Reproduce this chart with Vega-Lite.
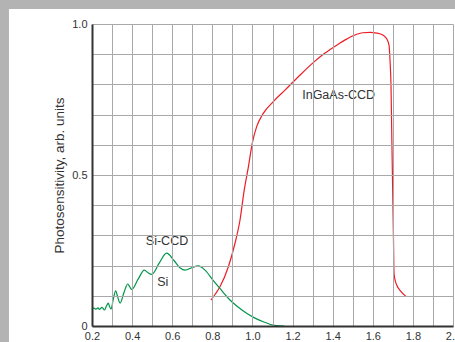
{
  "$schema": "https://vega.github.io/schema/vega-lite/v6.json",
  "width": 361,
  "height": 302,
  "autosize": {"type": "none"},
  "padding": {"left": 92, "top": 24, "right": 2, "bottom": 16},
  "background": "#b3b3b3",
  "config": {
    "view": {"stroke": "#444444", "strokeWidth": 2},
    "font": "Liberation Sans"
  },
  "datasets": {
    "curves": [
      {"series": "InGaAs-CCD", "wl": 0.793, "s": 0.086},
      {"series": "InGaAs-CCD", "wl": 0.815, "s": 0.106},
      {"series": "InGaAs-CCD", "wl": 0.838, "s": 0.130},
      {"series": "InGaAs-CCD", "wl": 0.880, "s": 0.196},
      {"series": "InGaAs-CCD", "wl": 0.913, "s": 0.274},
      {"series": "InGaAs-CCD", "wl": 0.938, "s": 0.351},
      {"series": "InGaAs-CCD", "wl": 0.959, "s": 0.450},
      {"series": "InGaAs-CCD", "wl": 0.980, "s": 0.528},
      {"series": "InGaAs-CCD", "wl": 0.999, "s": 0.605},
      {"series": "InGaAs-CCD", "wl": 1.021, "s": 0.660},
      {"series": "InGaAs-CCD", "wl": 1.054, "s": 0.704},
      {"series": "InGaAs-CCD", "wl": 1.104, "s": 0.743},
      {"series": "InGaAs-CCD", "wl": 1.162, "s": 0.781},
      {"series": "InGaAs-CCD", "wl": 1.230, "s": 0.826},
      {"series": "InGaAs-CCD", "wl": 1.303, "s": 0.872},
      {"series": "InGaAs-CCD", "wl": 1.360, "s": 0.903},
      {"series": "InGaAs-CCD", "wl": 1.420, "s": 0.930},
      {"series": "InGaAs-CCD", "wl": 1.470, "s": 0.950},
      {"series": "InGaAs-CCD", "wl": 1.520, "s": 0.966},
      {"series": "InGaAs-CCD", "wl": 1.550, "s": 0.971},
      {"series": "InGaAs-CCD", "wl": 1.586, "s": 0.972},
      {"series": "InGaAs-CCD", "wl": 1.620, "s": 0.970},
      {"series": "InGaAs-CCD", "wl": 1.652, "s": 0.963},
      {"series": "InGaAs-CCD", "wl": 1.670, "s": 0.950},
      {"series": "InGaAs-CCD", "wl": 1.681, "s": 0.930},
      {"series": "InGaAs-CCD", "wl": 1.686, "s": 0.880},
      {"series": "InGaAs-CCD", "wl": 1.691, "s": 0.793},
      {"series": "InGaAs-CCD", "wl": 1.695, "s": 0.620},
      {"series": "InGaAs-CCD", "wl": 1.699, "s": 0.461},
      {"series": "InGaAs-CCD", "wl": 1.703, "s": 0.300},
      {"series": "InGaAs-CCD", "wl": 1.706, "s": 0.174},
      {"series": "InGaAs-CCD", "wl": 1.712, "s": 0.150},
      {"series": "InGaAs-CCD", "wl": 1.719, "s": 0.136},
      {"series": "InGaAs-CCD", "wl": 1.740, "s": 0.115},
      {"series": "InGaAs-CCD", "wl": 1.764, "s": 0.099},
      {"series": "Si", "wl": 0.199, "s": 0.055},
      {"series": "Si", "wl": 0.210, "s": 0.059},
      {"series": "Si", "wl": 0.220, "s": 0.056},
      {"series": "Si", "wl": 0.230, "s": 0.060},
      {"series": "Si", "wl": 0.237, "s": 0.055},
      {"series": "Si", "wl": 0.250, "s": 0.062},
      {"series": "Si", "wl": 0.262, "s": 0.053},
      {"series": "Si", "wl": 0.272, "s": 0.066},
      {"series": "Si", "wl": 0.281, "s": 0.076},
      {"series": "Si", "wl": 0.288, "s": 0.064},
      {"series": "Si", "wl": 0.295, "s": 0.056},
      {"series": "Si", "wl": 0.306, "s": 0.088},
      {"series": "Si", "wl": 0.318, "s": 0.116},
      {"series": "Si", "wl": 0.329, "s": 0.094},
      {"series": "Si", "wl": 0.340, "s": 0.076},
      {"series": "Si", "wl": 0.360, "s": 0.112},
      {"series": "Si", "wl": 0.378, "s": 0.139},
      {"series": "Si", "wl": 0.388, "s": 0.130},
      {"series": "Si", "wl": 0.398, "s": 0.121},
      {"series": "Si", "wl": 0.430, "s": 0.155},
      {"series": "Si", "wl": 0.461, "s": 0.185},
      {"series": "Si", "wl": 0.480, "s": 0.176},
      {"series": "Si", "wl": 0.498, "s": 0.171},
      {"series": "Si", "wl": 0.535, "s": 0.208},
      {"series": "Si", "wl": 0.572, "s": 0.241},
      {"series": "Si", "wl": 0.610, "s": 0.216},
      {"series": "Si", "wl": 0.640, "s": 0.192},
      {"series": "Si", "wl": 0.664, "s": 0.185},
      {"series": "Si", "wl": 0.697, "s": 0.193},
      {"series": "Si", "wl": 0.730, "s": 0.199},
      {"series": "Si", "wl": 0.765, "s": 0.184},
      {"series": "Si", "wl": 0.805, "s": 0.150},
      {"series": "Si", "wl": 0.850, "s": 0.115},
      {"series": "Si", "wl": 0.888, "s": 0.086},
      {"series": "Si", "wl": 0.930, "s": 0.062},
      {"series": "Si", "wl": 0.971, "s": 0.042},
      {"series": "Si", "wl": 1.010, "s": 0.027},
      {"series": "Si", "wl": 1.054, "s": 0.014},
      {"series": "Si", "wl": 1.090, "s": 0.005},
      {"series": "Si", "wl": 1.121, "s": 0.001},
      {"series": "Si", "wl": 1.160, "s": 0.0}
    ],
    "labels": [
      {"label": "InGaAs-CCD", "wl": 1.43, "s": 0.765},
      {"label": "Si-CCD", "wl": 0.574, "s": 0.282},
      {"label": "Si", "wl": 0.553, "s": 0.146}
    ]
  },
  "encoding": {
    "x": {
      "type": "quantitative",
      "scale": {"domain": [0.2, 2.0], "nice": false, "zero": false},
      "axis": {
        "title": null,
        "zindex": 1,
        "values": [0.2, 0.3, 0.4, 0.5, 0.6, 0.7, 0.8, 0.9, 1.0, 1.1, 1.2, 1.3, 1.4, 1.5, 1.6, 1.7, 1.8, 1.9, 2.0],
        "labelExpr": "round(datum.value*10) % 2 == 0 ? format(datum.value, '.1f') : ''",
        "labelOverlap": false,
        "labelFlush": false,
        "ticks": false,
        "grid": true,
        "gridColor": "#a8a8a8",
        "gridWidth": 1,
        "domainColor": "#333333",
        "domainWidth": 2,
        "labelFont": "Liberation Sans",
        "labelFontSize": 11,
        "labelColor": "#333333",
        "labelPadding": 4
      }
    },
    "y": {
      "type": "quantitative",
      "scale": {"domain": [0, 1], "nice": false},
      "axis": {
        "title": "Photosensitivity, arb. units",
        "zindex": 1,
        "values": [0, 0.1, 0.2, 0.3, 0.4, 0.5, 0.6, 0.7, 0.8, 0.9, 1.0],
        "labelExpr": "datum.value == 0 ? '0' : (abs(datum.value - 0.5) < 0.001 ? '0.5' : (abs(datum.value - 1) < 0.001 ? '1.0' : ''))",
        "labelOverlap": false,
        "labelFlush": false,
        "ticks": false,
        "grid": true,
        "gridColor": "#a8a8a8",
        "gridWidth": 1,
        "domainColor": "#333333",
        "domainWidth": 2,
        "labelFont": "Liberation Sans",
        "labelFontSize": 11,
        "labelColor": "#333333",
        "labelPadding": 5,
        "titleFont": "Liberation Sans",
        "titleFontSize": 13.5,
        "titleFontWeight": "normal",
        "titleColor": "#333333",
        "titlePadding": 5
      }
    }
  },
  "layer": [
    {
      "data": {"values": [{}]},
      "mark": {"type": "rect", "fill": "white", "clip": false},
      "encoding": {
        "x": {"datum": -0.214, "type": "quantitative"},
        "x2": {"datum": 2.1},
        "y": {"datum": -0.2, "type": "quantitative"},
        "y2": {"datum": 1.0497}
      }
    },
    {
      "data": {"name": "curves"},
      "mark": {"type": "line", "interpolate": "monotone", "strokeWidth": 1.2},
      "encoding": {
        "x": {"field": "wl"},
        "y": {"field": "s"},
        "color": {
          "field": "series",
          "type": "nominal",
          "scale": {"domain": ["InGaAs-CCD", "Si"], "range": ["#ee1c25", "#00954a"]},
          "legend": null
        }
      }
    },
    {
      "data": {"name": "labels"},
      "mark": {"type": "text", "font": "Liberation Sans", "fontSize": 12.5, "color": "#333333", "align": "center", "baseline": "middle"},
      "encoding": {
        "x": {"field": "wl"},
        "y": {"field": "s"},
        "text": {"field": "label"}
      }
    }
  ]
}
